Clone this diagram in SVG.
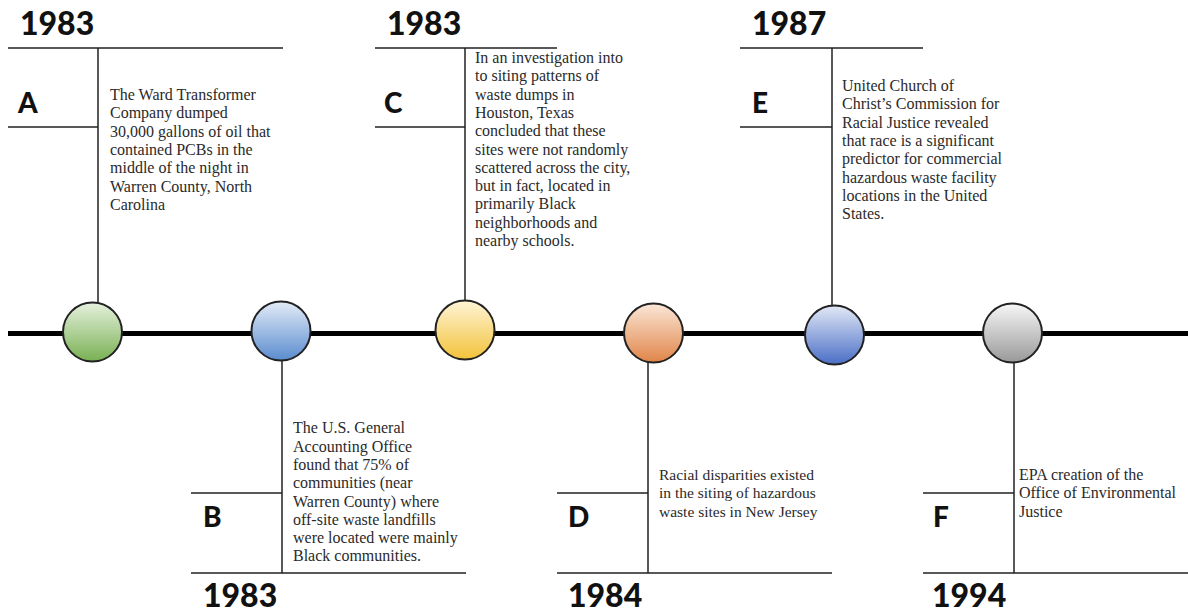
<svg xmlns="http://www.w3.org/2000/svg" width="1188" height="612" viewBox="0 0 1188 612">
<style>
.yr{font-family:Lato,"Open Sans",sans-serif;font-weight:900;font-size:32px;fill:#111}
.lt{font-family:Lato,"Open Sans",sans-serif;font-weight:900;font-size:28px;fill:#111}
.tx{font-family:"Liberation Serif","Times New Roman",serif;font-size:16px;fill:#2a2a2a}
.ln{stroke:#222;stroke-width:1.5;fill:none}
.dot{stroke:#222;stroke-width:2}
.main{stroke:#000;stroke-width:5}
</style>
<defs>
<linearGradient id="gA" x1="0" y1="0" x2="0" y2="1"><stop offset="0" stop-color="#e6f1de"/><stop offset="1" stop-color="#78b052"/></linearGradient>
<linearGradient id="gB" x1="0" y1="0" x2="0" y2="1"><stop offset="0" stop-color="#e3ebf7"/><stop offset="1" stop-color="#5a8ccf"/></linearGradient>
<linearGradient id="gC" x1="0" y1="0" x2="0" y2="1"><stop offset="0" stop-color="#fff5d6"/><stop offset="1" stop-color="#f2c23a"/></linearGradient>
<linearGradient id="gD" x1="0" y1="0" x2="0" y2="1"><stop offset="0" stop-color="#fbe7d8"/><stop offset="1" stop-color="#e08548"/></linearGradient>
<linearGradient id="gE" x1="0" y1="0" x2="0" y2="1"><stop offset="0" stop-color="#e2e8f6"/><stop offset="1" stop-color="#4a6ec6"/></linearGradient>
<linearGradient id="gF" x1="0" y1="0" x2="0" y2="1"><stop offset="0" stop-color="#f7f7f7"/><stop offset="1" stop-color="#999999"/></linearGradient>
</defs>
<rect width="1188" height="612" fill="#fff"/>
<g id="connectors">
<line class="main" x1="8" y1="333.5" x2="1188" y2="333.5"/>
</g>
<g id="node-A">
<text class="yr" x="20" y="35">1983</text>
<path class="ln" d="M8 48H283M8 127H98M98 48V302"/>
<text class="lt" x="18" y="113">A</text>
<text class="tx" x="110" y="100"><tspan x="110">The Ward Transformer</tspan><tspan x="110" dy="18.3">Company dumped</tspan><tspan x="110" dy="18.3">30,000 gallons of oil that</tspan><tspan x="110" dy="18.3">contained PCBs in the</tspan><tspan x="110" dy="18.3">middle of the night in</tspan><tspan x="110" dy="18.3">Warren County, North</tspan><tspan x="110" dy="18.3">Carolina</tspan></text>
<circle class="dot" cx="92.5" cy="332" r="29.5" fill="url(#gA)"/>
</g>
<g id="node-B">
<path class="ln" d="M282 361V573M191 573H466M191 493H282"/>
<text class="lt" x="203" y="527">B</text>
<text class="yr" x="203" y="607">1983</text>
<text class="tx" x="293" y="433.3"><tspan x="293">The U.S. General</tspan><tspan x="293" dy="18.3">Accounting Office</tspan><tspan x="293" dy="18.3">found that 75% of</tspan><tspan x="293" dy="18.3">communities (near</tspan><tspan x="293" dy="18.3">Warren County) where</tspan><tspan x="293" dy="18.3">off-site waste landfills</tspan><tspan x="293" dy="18.3">were located were mainly</tspan><tspan x="293" dy="18.3">Black communities.</tspan></text>
<circle class="dot" cx="281" cy="331" r="29.5" fill="url(#gB)"/>
</g>
<g id="node-C">
<text class="yr" x="387" y="35">1983</text>
<path class="ln" d="M375 48H557M375 127H465M465 48V300"/>
<text class="lt" x="384" y="113">C</text>
<text class="tx" x="475" y="63"><tspan x="475">In an investigation into</tspan><tspan x="475" dy="18.3">to siting patterns of</tspan><tspan x="475" dy="18.3">waste dumps in</tspan><tspan x="475" dy="18.3">Houston, Texas</tspan><tspan x="475" dy="18.3">concluded that these</tspan><tspan x="475" dy="18.3">sites were not randomly</tspan><tspan x="475" dy="18.3">scattered across the city,</tspan><tspan x="475" dy="18.3">but in fact, located in</tspan><tspan x="475" dy="18.3">primarily Black</tspan><tspan x="475" dy="18.3">neighborhoods and</tspan><tspan x="475" dy="18.3">nearby schools.</tspan></text>
<circle class="dot" cx="465" cy="330" r="29.5" fill="url(#gC)"/>
</g>
<g id="node-D">
<path class="ln" d="M648 362V573M557 573H832M557 493H648"/>
<text class="lt" x="568" y="527">D</text>
<text class="yr" x="568" y="607">1984</text>
<text class="tx" x="659" y="480" style="font-size:15.5px"><tspan x="659">Racial disparities existed</tspan><tspan x="659" dy="18.3">in the siting of hazardous</tspan><tspan x="659" dy="18.3">waste sites in New Jersey</tspan></text>
<circle class="dot" cx="653.5" cy="333" r="29.5" fill="url(#gD)"/>
</g>
<g id="node-E">
<text class="yr" x="752" y="35">1987</text>
<path class="ln" d="M740 48H923M740 127H832M832 48V306"/>
<text class="lt" x="752" y="113">E</text>
<text class="tx" x="842" y="91"><tspan x="842">United Church of</tspan><tspan x="842" dy="18.3">Christ’s Commission for</tspan><tspan x="842" dy="18.3">Racial Justice revealed</tspan><tspan x="842" dy="18.3">that race is a significant</tspan><tspan x="842" dy="18.3">predictor for commercial</tspan><tspan x="842" dy="18.3">hazardous waste facility</tspan><tspan x="842" dy="18.3">locations in the United</tspan><tspan x="842" dy="18.3">States.</tspan></text>
<circle class="dot" cx="834.5" cy="335" r="29.5" fill="url(#gE)"/>
</g>
<g id="node-F">
<path class="ln" d="M1014 362V573M923 573H1188M923 493H1014"/>
<text class="lt" x="933" y="527">F</text>
<text class="yr" x="932" y="607">1994</text>
<text class="tx" x="1019" y="480"><tspan x="1019">EPA creation of the</tspan><tspan x="1019" dy="18.3">Office of Environmental</tspan><tspan x="1019" dy="18.3">Justice</tspan></text>
<circle class="dot" cx="1012.5" cy="333" r="29.5" fill="url(#gF)"/>
</g>
</svg>
